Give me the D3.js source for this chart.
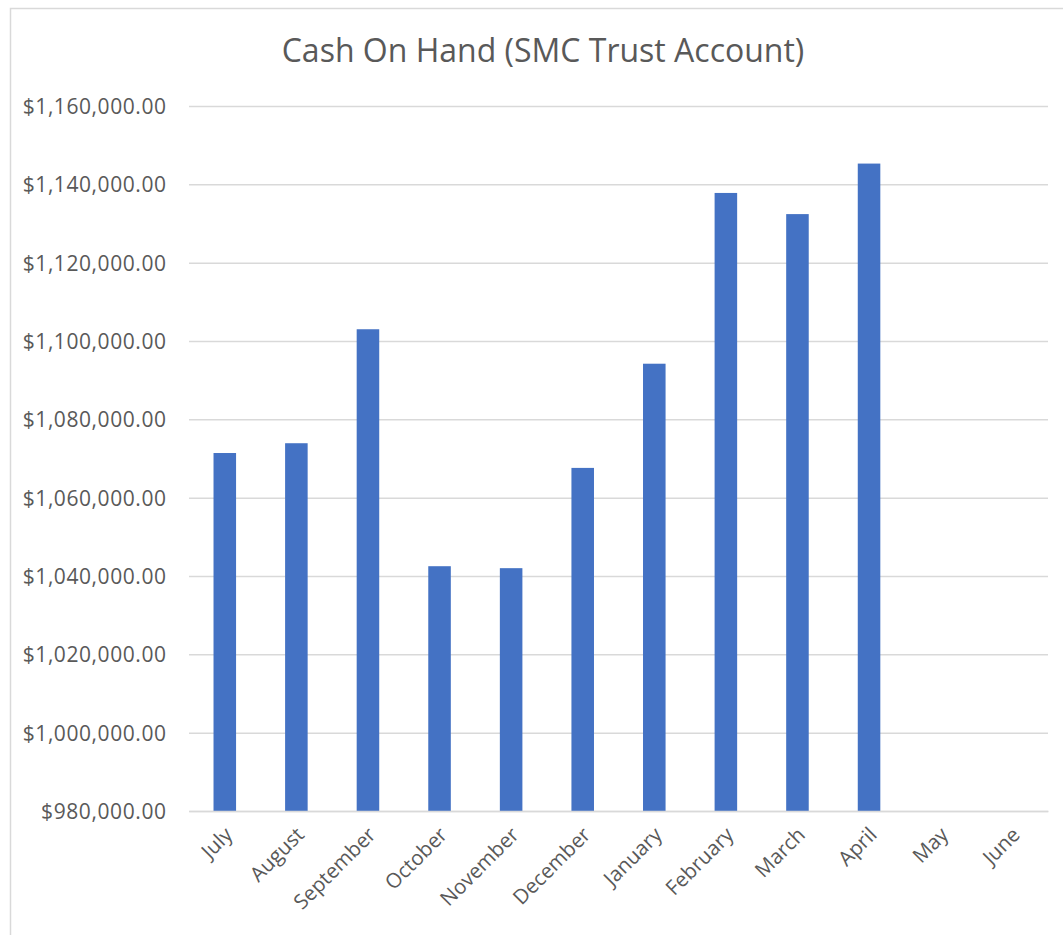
<!DOCTYPE html>
<html>
<head>
<meta charset="utf-8">
<script src="https://cdn.jsdelivr.net/npm/d3@7"></script>
<style>
  body { margin: 0; background: #fff; }
  text { font-family: "Open Sans", sans-serif; fill: #595959; }
</style>
</head>
<body>
<script>
const width = 1063;
const height = 935;

const months = ["July", "August", "September", "October", "November", "December",
  "January", "February", "March", "April", "May", "June"];
// May and June have no value yet
const cash = [1071400, 1073900, 1103000, 1042500, 1042000, 1067600,
  1094200, 1137800, 1132400, 1145300, null, null];
const yTicks = [980000, 1000000, 1020000, 1040000, 1060000, 1080000,
  1100000, 1120000, 1140000, 1160000];

const title = "Cash On Hand (SMC Trust Account)";

const margin = { top: 106, right: 15, bottom: 124, left: 189 };

const svg = d3.select("body")
  .append("svg")
  .attr("width", width)
  .attr("height", height);

// chart border
svg.append("rect")
  .attr("x", 10.5)
  .attr("y", 8.5)
  .attr("width", 1070)
  .attr("height", 950)
  .attr("fill", "none")
  .attr("stroke", "#d9d9d9")
  .attr("stroke-width", 1.5);

const x = d3.scaleBand()
  .domain(months)
  .range([margin.left, width - margin.right])
  .paddingInner(0.685)
  .paddingOuter(0.3425);

const y = d3.scaleLinear()
  .domain([980000, 1160000])
  .range([height - margin.bottom, margin.top]);

const fmt = d3.format("$,.2f");

// gridlines
const yAxis = d3.axisLeft(y)
  .tickValues(yTicks)
  .tickSize(-(width - margin.left - margin.right))
  .tickPadding(23)
  .tickFormat(fmt);

const gy = svg.append("g")
  .attr("transform", "translate(" + margin.left + ",0)")
  .call(yAxis);
gy.select(".domain").remove();
gy.selectAll(".tick line")
  .attr("stroke", "#d9d9d9")
  .attr("stroke-width", 1.5);
gy.selectAll(".tick text")
  .attr("font-size", "21px")
  .attr("textLength", function () { return this.getComputedTextLength() * 1.05; })
  .attr("dy", "0.35em");

// bars
svg.append("g")
  .selectAll("rect")
  .data(months.map(function (m, i) { return { month: m, value: cash[i] }; })
    .filter(function (d) { return d.value !== null; }))
  .enter()
  .append("rect")
  .attr("x", function (d) { return x(d.month); })
  .attr("y", function (d) { return y(d.value); })
  .attr("width", x.bandwidth())
  .attr("height", function (d) { return y(980000) - y(d.value); })
  .attr("fill", "#4472c4");

// x axis
const xAxis = d3.axisBottom(x).tickSize(0).tickPadding(0);
const gx = svg.append("g")
  .attr("transform", "translate(0," + (height - margin.bottom) + ")")
  .call(xAxis);
gx.select(".domain")
  .attr("stroke", "#d9d9d9")
  .attr("stroke-width", 1.5);
gx.selectAll(".tick text")
  .attr("font-size", "20.5px")
  .attr("text-anchor", "end")
  .attr("dy", "0")
  .attr("transform", "translate(9,25) rotate(-45)");

// title
svg.append("text")
  .attr("x", 543)
  .attr("y", 62)
  .attr("text-anchor", "middle")
  .attr("font-size", "32px")
  .text(title);
</script>
</body>
</html>
